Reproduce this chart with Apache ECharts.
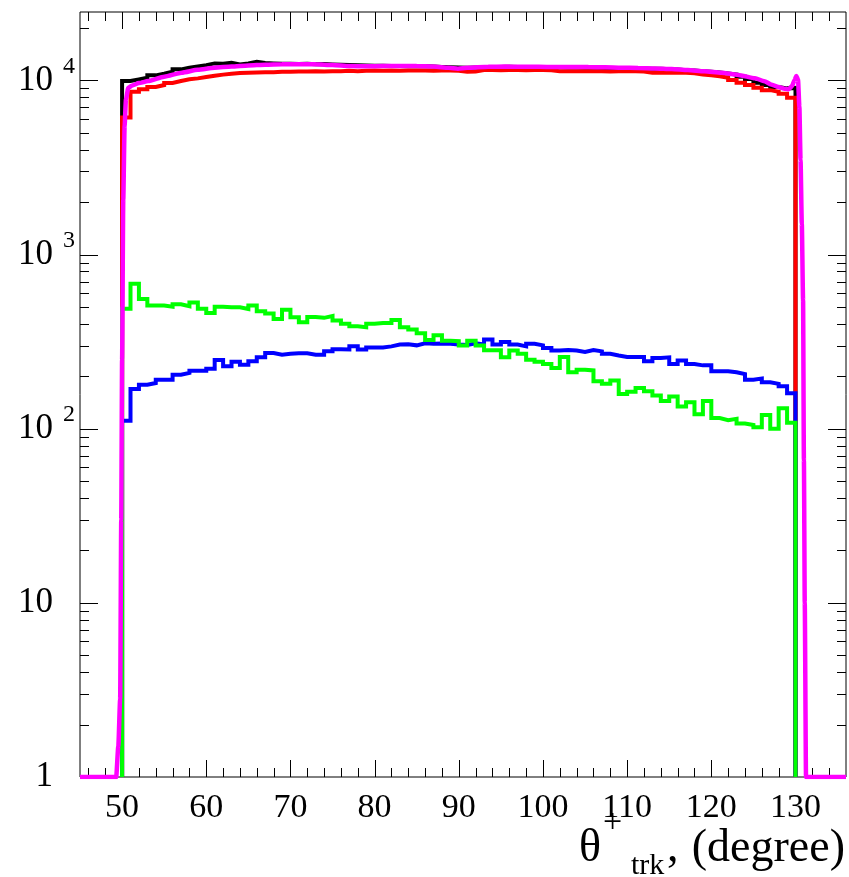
<!DOCTYPE html>
<html>
<head>
<meta charset="utf-8">
<script src="https://cdn.jsdelivr.net/npm/echarts@6/dist/echarts.min.js"></script>
<style>
  html, body { margin: 0; padding: 0; background: #fff; }
  #chart { width: 849px; height: 877px; }
</style>
</head>
<body>
<div id="chart"></div>
<script>
// Histogram binning: 1-degree bins starting at 50 degrees
const binLow = 50;
const binWidth = 1;

// Total (black histogram), entries per bin
const totalCounts = [
  9910, 10140, 10360, 10690, 10920, 11210, 11570, 11820, 12030, 12240,
  12520, 12480, 12640, 12360, 12520, 12800, 12580, 12500, 12450, 12480,
  12400, 12450, 12380, 12420, 12350, 12300, 12250, 12200, 12180, 12150,
  12120, 12100, 12080, 12050, 12060, 12040, 12000, 11950, 11900, 11850,
  11800, 11850, 11900, 11950, 11950, 11980, 11950, 11950, 11930, 11900,
  11900, 11880, 11850, 11850, 11820, 11800, 11780, 11750, 11700, 11680,
  11750, 11700, 11650, 11650, 11600, 11550, 11450, 11400, 11300, 11200,
  11100, 10950, 10800, 10500, 10200, 9700, 9400, 9150, 9000, 9050
];

// Red histogram
const redCounts = [
  6130, 8610, 8880, 9160, 9400, 9660, 9910, 10140, 10270, 10450,
  10640, 10790, 10920, 11020, 11070, 11100, 11150, 11150, 11200, 11210,
  11250, 11250, 11300, 11250, 11300, 11300, 11350, 11300, 11350, 11380,
  11350, 11400, 11350, 11400, 11380, 11400, 11350, 11380, 11400, 11350,
  11210, 11250, 11460, 11460, 11420, 11460, 11460, 11420, 11460, 11460,
  11420, 11300, 11300, 11300, 11280, 11300, 11300, 11250, 11300, 11280,
  11300, 11250, 11070, 11100, 11070, 11050, 11070, 11000, 10820, 10700,
  10550, 10360, 10040, 9700, 9400, 9080, 8790, 8610, 8380, 7950
];

// Blue histogram
const blueCounts = [
  111, 169, 179, 183, 191, 191, 204, 209, 215, 215,
  221, 248, 228, 242, 233, 244, 257, 272, 266, 269,
  271, 271, 266, 266, 278, 286, 285, 297, 285, 293,
  293, 297, 304, 305, 301, 309, 307, 308, 307, 304,
  302, 309, 304, 325, 304, 315, 304, 297, 307, 301,
  291, 281, 283, 281, 276, 283, 278, 269, 263, 258,
  258, 258, 244, 255, 257, 235, 246, 235, 231, 231,
  214, 214, 211, 206, 191, 194, 185, 181, 175, 160
];

// Green histogram
const greenCounts = [
  488, 679, 556, 509, 509, 501, 518, 505, 530, 489,
  462, 501, 498, 498, 487, 509, 472, 458, 427, 482,
  436, 408, 438, 433, 444, 418, 400, 387, 382, 401,
  405, 405, 421, 382, 371, 353, 323, 344, 320, 318,
  300, 320, 300, 282, 282, 257, 281, 269, 249, 242,
  235, 223, 258, 211, 218, 216, 187, 181, 189, 158,
  163, 171, 164, 155, 144, 153, 134, 142, 121, 144,
  115, 112, 114, 107, 105, 102, 120, 100, 131, 108
];

// Magenta curve sampled along theta
const curveTheta = [
  45, 49.3, 49.55, 49.77, 49.9, 50.0, 50.14, 50.3, 50.46, 50.74,
  51.2, 52, 53.1, 55, 57.1, 59, 61, 63, 65, 67,
  69, 71, 73, 75, 77, 79, 81, 83, 85, 87,
  88.8, 89.9, 91, 93.5, 95.5, 97.5, 99.5, 101.4, 103.4, 105.4,
  107.4, 109.3, 111.3, 113.3, 115.3, 117.2, 119.2, 121.2, 123.2, 125.2,
  126.3, 127.1, 128, 128.7, 129.2, 129.6, 129.9, 130.1, 130.3, 130.46,
  130.6, 130.75, 130.9, 131.0, 131.1, 131.25, 136
];
const curveValue = [
  1, 1, 1.5, 2.8, 30, 250, 2070, 5500, 7800, 9080,
  9350, 9650, 9910, 10500, 11070, 11500, 11820, 12020, 12190, 12300,
  12360, 12380, 12360, 12250, 12080, 12060, 12080, 12090, 12080, 12000,
  11820, 11680, 11800, 11990, 12000, 11990, 11960, 11930, 11940, 11930,
  11880, 11820, 11780, 11720, 11620, 11460, 11290, 11070, 10750, 10270,
  9900, 9480, 9150, 8950, 8900, 9300, 10100, 10600, 10100, 7100,
  3500, 1500, 550, 66, 10, 1, 1
];

// Axis ticks and labels
const xLabelValues = [50, 60, 70, 80, 90, 100, 110, 120, 130];
const xMinorTicks = [46, 48, 52, 54, 56, 58, 62, 64, 66, 68, 72, 74, 76, 78, 82, 84, 86, 88,
  92, 94, 96, 98, 102, 104, 106, 108, 112, 114, 116, 118, 122, 124, 126, 128, 132, 134];
const yMajorTicks = [1, 10, 100, 1000, 10000];
const yMinorTicks = [
  2, 3, 4, 5, 6, 7, 8, 9,
  20, 30, 40, 50, 60, 70, 80, 90,
  200, 300, 400, 500, 600, 700, 800, 900,
  2000, 3000, 4000, 5000, 6000, 7000, 8000, 9000,
  20000
];

const X_MIN = 45, X_MAX = 136;
const Y_MIN = 1, Y_MAX = 24700;

// Turn per-bin contents into a closed step outline (rising from and returning to the axis floor)
function histOutline(counts) {
  const pts = [[binLow, Y_MIN]];
  counts.forEach((c, i) => pts.push([binLow + i * binWidth, c]));
  const end = binLow + counts.length * binWidth;
  pts.push([end, counts[counts.length - 1]]);
  pts.push([end, Y_MIN]);
  return pts;
}

function histSeries(name, counts, color) {
  return {
    name: name,
    type: 'line',
    step: 'end',
    data: histOutline(counts),
    showSymbol: false,
    symbol: 'none',
    lineStyle: { color: color, width: 4, cap: 'butt', join: 'miter' },
    animation: false,
    silent: true
  };
}

// Tick marks on all four frame sides: kind 0 = x major, 1 = x minor, 2 = y major, 3 = y minor
const tickItems = [];
xLabelValues.forEach(v => tickItems.push([v, Y_MIN, 0]));
xMinorTicks.forEach(v => tickItems.push([v, Y_MIN, 1]));
yMajorTicks.forEach(v => tickItems.push([binLow, v, 2]));
yMinorTicks.forEach(v => tickItems.push([binLow, v, 3]));

const serif = '"Liberation Serif", "DejaVu Serif", serif';

const chart = echarts.init(document.getElementById('chart'), null, { renderer: 'canvas' });

chart.setOption({
  animation: false,
  backgroundColor: '#ffffff',
  grid: {
    left: 80, right: 3, top: 12, bottom: 100,
    show: true, borderColor: '#000', borderWidth: 1, backgroundColor: 'transparent'
  },
  xAxis: {
    type: 'value',
    min: X_MIN,
    max: X_MAX,
    axisLine: { show: false },
    axisTick: { show: false },
    splitLine: { show: false },
    axisLabel: {
      customValues: xLabelValues,
      fontFamily: serif,
      fontSize: 34,
      color: '#000',
      margin: 14
    }
  },
  yAxis: {
    type: 'log',
    logBase: 10,
    min: Y_MIN,
    max: Y_MAX,
    axisLine: { show: false },
    axisTick: { show: false },
    splitLine: { show: false },
    axisLabel: {
      showMaxLabel: false,
      showMinLabel: true,
      fontFamily: serif,
      fontSize: 35,
      color: '#000',
      margin: 5,
      formatter: function (v) {
        const e = Math.round(Math.log10(v));
        if (Math.abs(Math.log10(v) - e) > 1e-6) return '';
        if (e === 0) return '1{pad| }';
        if (e === 1) return '10{pad| }';
        return '10{sup|' + e + '}';
      },
      rich: {
        sup: { fontFamily: serif, fontSize: 24, color: '#000', padding: [0, 0, 28, 10] },
        pad: { fontFamily: serif, fontSize: 24, width: 22 }
      }
    }
  },
  series: [
    {
      type: 'custom',
      coordinateSystem: 'cartesian2d',
      data: tickItems,
      clip: false,
      silent: true,
      z: 1,
      renderItem: function (params, api) {
        const cs = params.coordSys;
        const left = cs.x, right = cs.x + cs.width, top = cs.y, bottom = cs.y + cs.height;
        const kind = api.value(2);
        const style = { stroke: '#000', lineWidth: 1 };
        if (kind < 2) {
          const px = Math.round(api.coord([api.value(0), Y_MIN])[0]) + 0.5;
          const len = kind === 0 ? 17 : 9;
          return {
            type: 'group',
            children: [
              { type: 'line', shape: { x1: px, y1: bottom, x2: px, y2: bottom - len }, style: style },
              { type: 'line', shape: { x1: px, y1: top, x2: px, y2: top + len }, style: style }
            ]
          };
        }
        const py = Math.round(api.coord([binLow, api.value(1)])[1]) + 0.5;
        const len = kind === 2 ? 18 : 9;
        return {
          type: 'group',
          children: [
            { type: 'line', shape: { x1: left, y1: py, x2: left + len, y2: py }, style: style },
            { type: 'line', shape: { x1: right, y1: py, x2: right - len, y2: py }, style: style }
          ]
        };
      }
    },
    histSeries('total', totalCounts, '#000000'),
    histSeries('red', redCounts, '#ff0000'),
    histSeries('blue', blueCounts, '#0000ff'),
    histSeries('green', greenCounts, '#00ff00'),
    {
      name: 'curve',
      type: 'line',
      data: curveTheta.map((t, i) => [t, curveValue[i]]),
      showSymbol: false,
      symbol: 'none',
      smooth: 0.2,
      smoothMonotone: 'x',
      lineStyle: { color: '#ff00ff', width: 4.5 },
      animation: false,
      silent: true
    }
  ],
  graphic: [
    { type: 'text', x: 579, y: 849, style: { text: 'θ', font: '46px ' + serif, fill: '#000', align: 'left', verticalAlign: 'middle' } },
    { type: 'text', x: 603, y: 823, style: { text: '+', font: '34px ' + serif, fill: '#000', align: 'left', verticalAlign: 'middle' } },
    { type: 'text', x: 631, y: 866, style: { text: 'trk', font: '30px ' + serif, fill: '#000', align: 'left', verticalAlign: 'middle' } },
    { type: 'text', x: 667, y: 849, style: { text: ',', font: '46px ' + serif, fill: '#000', align: 'left', verticalAlign: 'middle' } },
    { type: 'text', x: 845, y: 849, style: { text: '(degree)', font: '46px ' + serif, fill: '#000', align: 'right', verticalAlign: 'middle' } }
  ]
});
</script>
</body>
</html>
